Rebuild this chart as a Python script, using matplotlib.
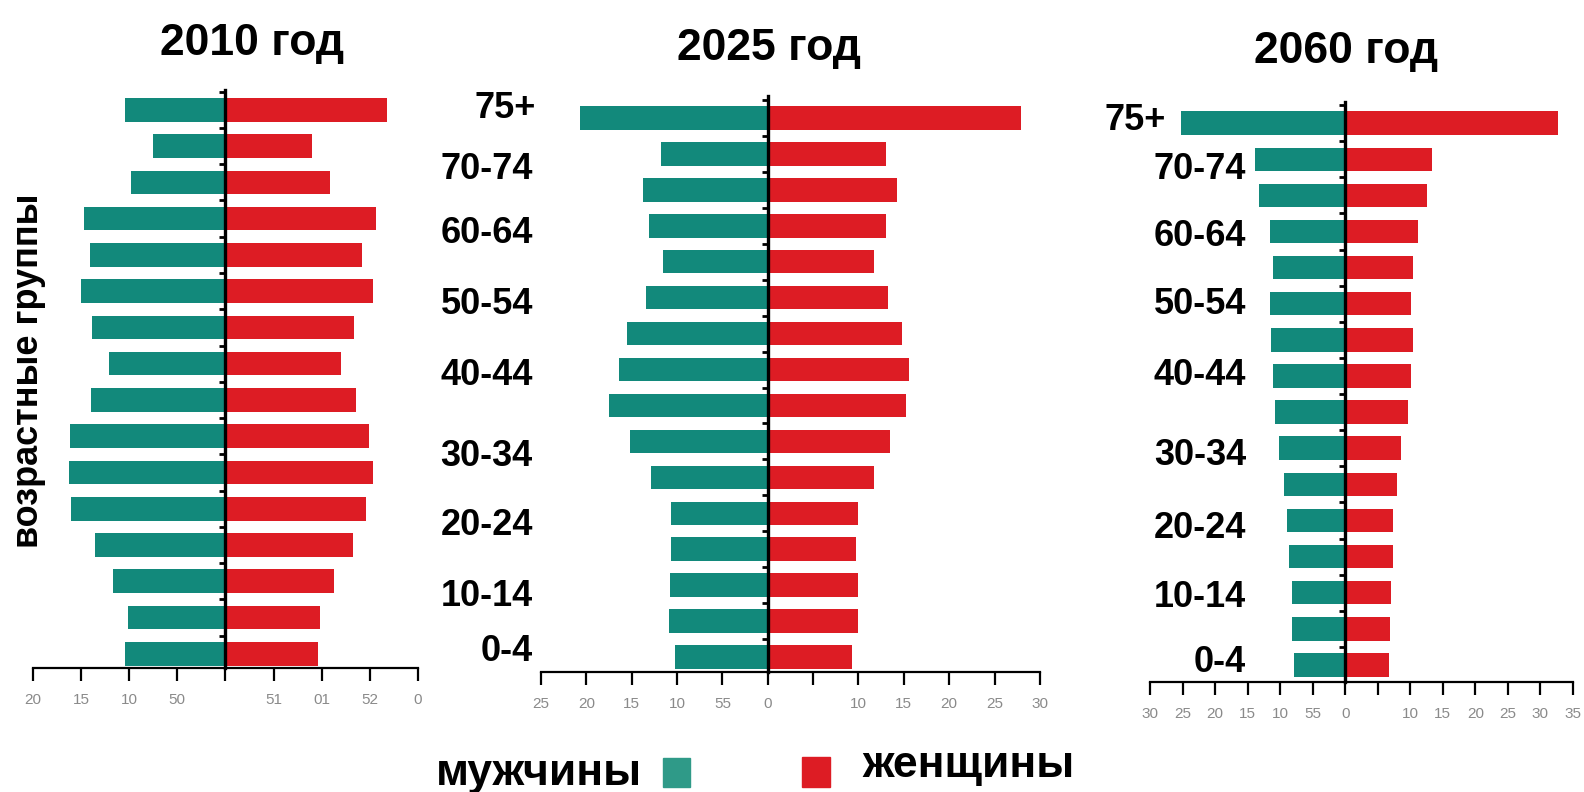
import numpy as np
import matplotlib
matplotlib.use('Agg')
import matplotlib.pyplot as plt
from matplotlib.patches import Rectangle

plt.rcParams['font.family'] = ['Liberation Sans', 'DejaVu Sans']

# age groups, bottom to top
ages = ['0-4', '5-9', '10-14', '15-19', '20-24', '25-29', '30-34', '35-39',
        '40-44', '45-49', '50-54', '55-59', '60-64', '65-69', '70-74', '75+']

# shares (men drawn to the left)
male_2010 = [10.4, 10.1, 11.7, 13.6, 16.0, 16.3, 16.1, 14.0, 12.1, 13.9, 15.0, 14.1, 14.7, 9.8, 7.5, 10.4]
female_2010 = [9.6, 9.8, 11.3, 13.3, 14.6, 15.3, 14.9, 13.6, 12.0, 13.4, 15.3, 14.2, 15.6, 10.9, 9.0, 16.8]

male_2025 = [10.2, 10.9, 10.8, 10.7, 10.7, 12.9, 15.2, 17.5, 16.4, 15.5, 13.4, 11.6, 13.1, 13.8, 11.8, 20.7]
female_2025 = [9.3, 9.9, 9.9, 9.7, 9.9, 11.7, 13.5, 15.2, 15.6, 14.8, 13.3, 11.7, 13.0, 14.3, 13.0, 27.9]

male_2060 = [7.8, 8.1, 8.2, 8.6, 8.9, 9.4, 10.2, 10.8, 11.1, 11.4, 11.6, 11.1, 11.6, 13.2, 13.9, 25.2]
female_2060 = [6.7, 6.9, 7.1, 7.4, 7.4, 7.9, 8.6, 9.7, 10.1, 10.4, 10.1, 10.4, 11.2, 12.6, 13.3, 32.7]

# tick labels exactly as printed (scan is garbled)
ticks_2010 = ['20', '15', '10', '50', '', '51', '01', '52', '0']
ticks_2025 = ['25', '20', '15', '10', '55', '0', '', '10', '15', '20', '25', '30']
ticks_2060 = ['30', '25', '20', '15', '10', '55', '0', '', '10', '15', '20', '25', '30', '35']

shown_ages = ['75+', '70-74', '60-64', '50-54', '40-44', '30-34', '20-24', '10-14', '0-4']
# the printed labels sit a little off their bars
nudge_2025 = [0.28, -0.42, -0.22, -0.2, -0.17, -0.42, -0.33, -0.31, 0.14]
nudge_2060 = [0.08, -0.28, -0.14, -0.03, 0.0, -0.19, -0.22, -0.14, 0.06]

green = '#12897b'
red = '#dd1c24'


def pyramid(ax, male, female, xmin, xmax, ylo, yhi, ticklabels):
    y = np.arange(len(ages))
    ax.barh(y, [-m for m in male], height=0.65, color=green)
    ax.barh(y, female, height=0.65, color=red)
    ax.set_xlim(xmin, xmax)
    ax.set_ylim(ylo, yhi)
    ax.set_xticks(np.arange(xmin, xmax + 1, 5))
    ax.set_xticklabels(ticklabels, color='#8a8a8a', fontsize=11)
    ax.tick_params(axis='x', direction='out', length=9, width=1.6, pad=9)
    ax.spines['top'].set_visible(False)
    ax.spines['right'].set_visible(False)
    ax.spines['left'].set_position(('data', 0))
    ax.spines['left'].set_linewidth(2.4)
    ax.spines['bottom'].set_linewidth(1.6)
    ax.set_yticks(np.arange(0.5, len(ages), 1))
    ax.set_yticklabels([])
    ax.tick_params(axis='y', direction='out', length=4, width=2)


fig = plt.figure(figsize=(15.84, 7.92), dpi=100)

ax1 = fig.add_axes([0.0208, 0.1566, 0.243, 0.730])
pyramid(ax1, male_2010, female_2010, -20, 20, -0.39, 15.55, ticks_2010)

ax2 = fig.add_axes([0.3415, 0.1515, 0.315, 0.727])
pyramid(ax2, male_2025, female_2025, -25, 30, -0.42, 15.61, ticks_2025)

ax3 = fig.add_axes([0.726, 0.139, 0.267, 0.732])
pyramid(ax3, male_2060, female_2060, -30, 35, -0.47, 15.58, ticks_2060)

lab_font = dict(fontsize=26, fontweight='bold', ha='right', va='center', clip_on=False)
for a, n2, n3 in zip(shown_ages, nudge_2025, nudge_2060):
    i = ages.index(a)
    ax2.text(-25.6 if a == '75+' else -25.0 - 8 / 9.08, i + n2, a, **lab_font)
    ax3.text(-27.6 if a == '75+' else -15.2, i + n3, a, **lab_font)

fig.text(0.0177, 0.532, 'возрастные группы', rotation=90, ha='center', va='center',
         fontsize=26, fontweight='bold')

fig.text(252 / 1584, 1 - 55 / 792, '2010 год', ha='center', va='baseline', fontsize=32, fontweight='bold')
fig.text(769 / 1584, 1 - 60 / 792, '2025 год', ha='center', va='baseline', fontsize=32, fontweight='bold')
fig.text(1346 / 1584, 1 - 63 / 792, '2060 год', ha='center', va='baseline', fontsize=32, fontweight='bold')

# legend
fig.text(436 / 1584, 1 - 785 / 792, 'мужчины', ha='left', va='baseline', fontsize=32, fontweight='bold')
fig.add_artist(Rectangle((663 / 1584, 1 - 787 / 792), 27 / 1584, 29 / 792,
                         transform=fig.transFigure, color='#2f9a88'))
fig.add_artist(Rectangle((802 / 1584, 1 - 787 / 792), 28 / 1584, 30 / 792,
                         transform=fig.transFigure, color=red))
fig.text(862 / 1584, 1 - 777 / 792, 'женщины', ha='left', va='baseline', fontsize=32, fontweight='bold')

fig.savefig('out.png', dpi=100)
